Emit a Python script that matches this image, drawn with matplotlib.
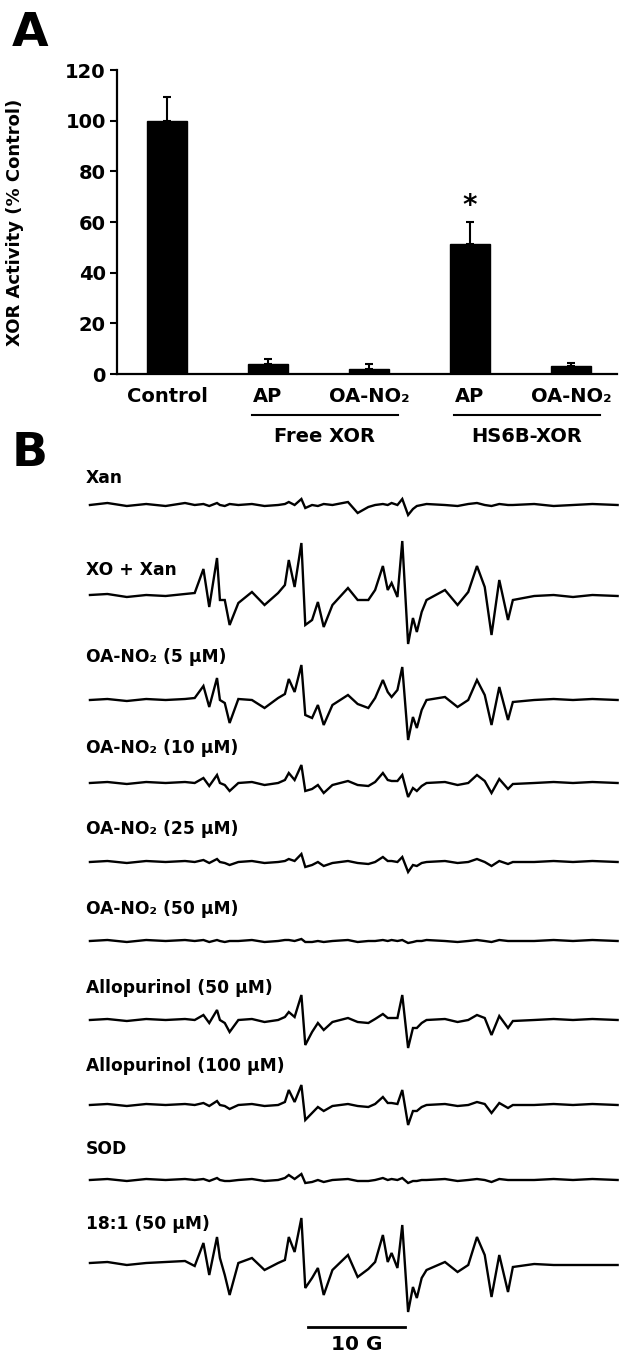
import matplotlib
matplotlib.use("Agg")
import matplotlib.pyplot as plt

plt.rcParams['font.family'] = ['DejaVu Sans']
plt.rcParams['font.weight'] = 'bold'

# ---------------- Panel A data ----------------
bar_labels = ["Control", "AP", "OA-NO₂", "AP", "OA-NO₂"]
bar_values = [100, 3.8, 2.0, 51.5, 3.0]
bar_errors = [9.5, 2.0, 1.8, 8.5, 1.2]
group_labels = ["Free XOR", "HS6B-XOR"]
y_ticks = [0, 20, 40, 60, 80, 100, 120]

# ---------------- Panel B data ----------------
trace_names = ["Xan", "XO + Xan", "OA-NO₂ (5 µM)", "OA-NO₂ (10 µM)",
               "OA-NO₂ (25 µM)", "OA-NO₂ (50 µM)", "Allopurinol (50 µM)",
               "Allopurinol (100 µM)", "SOD", "18:1 (50 µM)"]

field_G = [0.2, 2, 4, 6, 8, 10, 11.0, 11.9, 12.5, 13.3, 13.6, 14.1, 14.6, 15.5,
           16.9, 18.2, 19.6, 20.3, 20.7, 21.3, 22.0, 22.4, 23.1, 23.7, 24.3, 25.2,
           26.8, 27.8, 28.9, 29.6, 30.4, 30.9, 31.3, 31.9, 32.4, 33.0, 33.5, 33.9,
           34.4, 34.9, 36.8, 38.1, 39.2, 40.1, 40.9, 41.6, 42.4, 43.3, 43.8, 46,
           48, 50, 52, 54.6]

sig_xan = [0, 2, -1, 1, -1, 2, 0, 1, -1, 2, 0, -1, 1, 0,
           1, -1, 0, 1, 3, 0, 6, -3, 0, -1, 1, 0,
           3, -8, -2, 0, 1, 0, 2, 0, 6, -10, -4, -1,
           0, 1, 0, -1, 1, 2, 0, -1, 1, 0, 0, 1,
           -1, 0, 1, 0]
sig_xo = [1, 2, -1, 1, 0, 2, 3, 27, -11, 38, -4, -4, -29, -7,
          4, -9, 3, 11, 36, 9, 53, -29, -24, -6, -31, -9,
          8, -4, -4, 6, 30, 6, 13, -1, 55, -48, -22, -36,
          -16, -4, 6, -9, 4, 30, 9, -39, 16, -24, -4, 0,
          1, -1, 1, 0]
sig_oa5 = [0, 1, -1, 1, 0, 1, 2, 14, -7, 22, 0, -3, -23, 1,
           0, -8, 2, 6, 21, 8, 35, -15, -18, -5, -25, -5,
           5, -4, -8, 2, 20, 8, 3, 10, 33, -40, -17, -28,
           -10, 0, 3, -7, 0, 20, 5, -25, 13, -20, -2, 0,
           1, 0, 1, 0]
sig_oa10 = [0, 1, -1, 1, 0, 1, 0, 5, -3, 8, 0, -2, -8, 0,
            1, -2, 0, 3, 10, 3, 18, -8, -6, -2, -10, -2,
            2, -2, -3, 1, 10, 3, 2, 2, 8, -14, -5, -8,
            -3, 0, 1, -2, 0, 8, 2, -10, 4, -6, -1, 0,
            1, 0, 1, 0]
sig_oa25 = [0, 1, -1, 1, 0, 1, 0, 2, -1, 3, 0, -1, -3, 0,
            1, -1, 0, 1, 3, 1, 8, -5, -3, 0, -4, -1,
            1, -1, -2, 0, 5, 1, 1, 0, 5, -10, -3, -4,
            -1, 0, 1, -1, 0, 3, 0, -4, 1, -2, 0, 0,
            1, 0, 1, 0]
sig_oa50 = [0, 1, -1, 1, 0, 1, 0, 1, -1, 1, 0, -1, 0, 0,
            1, -1, 0, 1, 1, 0, 2, -1, -1, 0, -1, 0,
            1, -1, 0, 0, 1, 0, 1, 0, 1, -2, -1, 0,
            0, 1, 0, -1, 0, 1, 0, -1, 1, 0, 0, 0,
            1, 0, 1, 0]
sig_allo50 = [0, 1, -1, 1, 0, 1, 0, 5, -3, 10, 0, -3, -12, 0,
              1, -2, 0, 3, 8, 3, 25, -25, -12, -3, -10, -2,
              2, -2, -3, 1, 6, 2, 2, 2, 25, -28, -8, -8,
              -3, 0, 1, -2, 0, 5, 2, -15, 4, -8, -1, 0,
              1, 0, 1, 0]
sig_allo100 = [0, 1, -1, 1, 0, 1, 0, 2, -1, 4, 0, -1, -4, 0,
               1, -1, 0, 3, 15, 3, 20, -15, -8, -2, -6, -1,
               1, -1, -2, 1, 8, 2, 2, 1, 15, -20, -6, -6,
               -2, 0, 1, -1, 0, 3, 1, -8, 2, -3, 0, 0,
               1, 0, 1, 0]
sig_sod = [0, 1, -1, 1, 0, 1, 0, 1, -1, 2, 0, -1, -1, 0,
           1, -1, 0, 2, 5, 1, 6, -3, -2, 0, -2, 0,
           1, -1, -1, 0, 2, 0, 1, 0, 2, -3, -1, -1,
           0, 0, 1, -1, 0, 1, 0, -2, 1, 0, 0, 0,
           1, 0, 1, 0]
sig_181 = [0, 1, -2, 0, 1, 2, -3, 20, -12, 26, 5, -12, -32, 0,
           5, -7, 0, 3, 26, 11, 45, -25, -15, -5, -32, -7,
           8, -14, -6, 1, 28, 1, 10, -5, 38, -49, -24, -35,
           -15, -7, 1, -9, -2, 26, 8, -34, 8, -29, -4, -1,
           -2, -2, -2, -2]

signals = [sig_xan, sig_xo, sig_oa5, sig_oa10, sig_oa25, sig_oa50,
           sig_allo50, sig_allo100, sig_sod, sig_181]

# layout (pixel rows of the figure, 460 = top of panel B area)
baselines_px = [505, 596, 700, 783, 862, 941, 1020, 1105, 1180, 1263]
label_px = [478, 570, 657, 748, 829, 909, 988, 1066, 1149, 1224]

W, H = 620, 1361
fig = plt.figure(figsize=(W / 100, H / 100), dpi=100)

# ---------------- Panel A ----------------
axA = fig.add_axes([117 / W, 1 - 374 / H, (617 - 117) / W, (374 - 70) / H])
pos = list(range(len(bar_values)))
axA.bar(pos, bar_values, width=0.40, color='black', edgecolor='black', zorder=2)
axA.errorbar(pos, bar_values, yerr=[[0] * len(bar_errors), bar_errors], fmt='none',
             ecolor='black', elinewidth=1.5, capsize=3, capthick=1.5, zorder=1)
axA.set_xlim(-0.495, 4.455)
axA.set_ylim(0, 120)
axA.set_yticks(y_ticks)
axA.set_yticklabels([str(t) for t in y_ticks], fontsize=14, fontweight='bold')
axA.set_xticks(pos)
axA.set_xticklabels(bar_labels, fontsize=14, fontweight='bold')
axA.tick_params(axis='x', length=0, pad=9)
axA.tick_params(axis='y', length=5, width=1.5, direction='out', pad=3)
for s in ['top', 'right']:
    axA.spines[s].set_visible(False)
for s in ['left', 'bottom']:
    axA.spines[s].set_linewidth(1.6)
axA.set_ylabel("XOR Activity (% Control)", fontsize=13, fontweight='bold')
axA.yaxis.set_label_coords(-0.185, 0.5)

# group lines and labels
groups = [(1, 2), (3, 4)]
for (a, b), g in zip(groups, group_labels):
    axA.plot([a - 0.16, b + 0.29], [-16.2, -16.2], color='black', lw=1.5, clip_on=False)
    axA.text((a + b) / 2 + 0.06, -24.5, g, ha='center', va='center', fontsize=14,
             fontweight='bold')
axA.text(3, 66.5, "*", ha='center', va='center', fontsize=20, fontweight='bold')

# ---------------- Panel B ----------------
axB = fig.add_axes([80 / W, 0, (W - 80) / W, (H - 460) / H])
axB.set_xlim((80 - 88) / 9.7, (620 - 88) / 9.7)
axB.set_ylim(H - 460, 0)
axB.axis('off')
for name, sig, b, ly in zip(trace_names, signals, baselines_px, label_px):
    yb = b - 460
    axB.plot(field_G, [yb - v for v in sig], color='black', lw=1.7,
             solid_joinstyle='miter')
    axB.text(-0.2, ly - 460, name, ha='left', va='center', fontsize=12.3,
             fontweight='bold')

# scale bar 10 G
axB.plot([22.7, 32.7], [1327 - 460, 1327 - 460], color='black', lw=2)
axB.text(27.7, 1345 - 460, "10 G", ha='center', va='center', fontsize=14.5,
         fontweight='bold')

fig.text(12 / W, 1 - 33 / H, "A", fontsize=34, fontweight='bold', va='center', ha='left')
fig.text(12 / W, 1 - 453 / H, "B", fontsize=34, fontweight='bold', va='center', ha='left')

fig.savefig("out.png", dpi=100, facecolor='white')
